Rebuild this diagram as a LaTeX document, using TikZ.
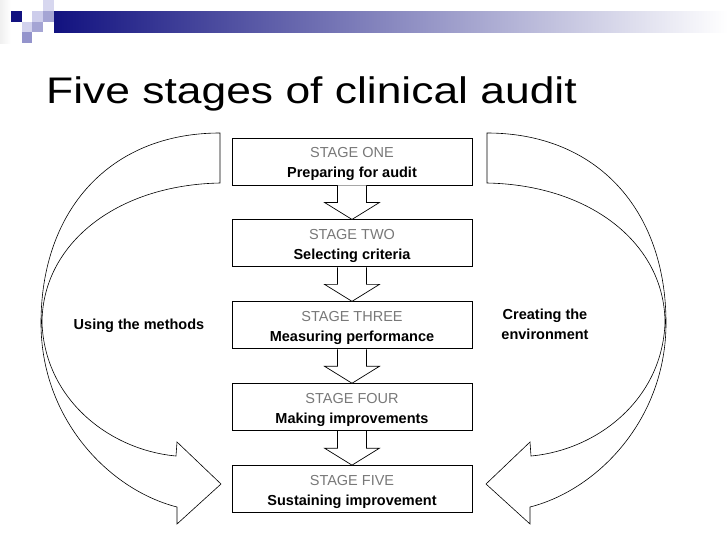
\documentclass[tikz,border=0pt]{standalone}
\usepackage{fontspec}
\setmainfont{Liberation Sans}
\usetikzlibrary{positioning, calc}
\definecolor{bannernavy}{RGB}{18,18,128}
\definecolor{stagegrey}{RGB}{120,120,120}
\definecolor{sqlight}{RGB}{205,205,235}
\definecolor{sqmid}{RGB}{165,165,212}
\definecolor{sqdark}{RGB}{148,148,204}

\tikzset{
  stagebox/.style={draw=black, line width=0.9pt, minimum width=240pt, minimum height=47pt,
    align=center, inner sep=0pt, text height=32pt, text depth=0pt,
    font=\fontsize{14.5}{20}\selectfont\bfseries},
  blockarrow/.style={draw=black, line width=0.7pt, fill=white, line join=miter},
  looparrow/.style={draw=black, line width=0.6pt, line join=miter},
  sidelabel/.style={align=center, inner sep=0pt, font=\fontsize{14.5}{20}\selectfont\bfseries}
}

\begin{document}
\begin{tikzpicture}[x=1pt, y=-1pt]
  \useasboundingbox (0,0) rectangle (728,546);
  % Banner
  \fill[left color=gray!12, right color=white] (0,0) rectangle (11,43);
  \fill[left color=bannernavy, middle color=bannernavy!55, right color=white] (54,11) rectangle (728,32);
  \fill[bannernavy] (11,11) rectangle (22,22);
  \fill[sqlight] (32,11) rectangle (43,22);
  \fill[sqlight!80] (43,0) rectangle (54,11);
  \fill[sqmid] (43,11) rectangle (54,22);
  \fill[sqlight!90] (22,22) rectangle (32,32);
  \fill[sqmid] (32,22) rectangle (43,32);
  \fill[sqdark] (22,32) rectangle (32,43);
  % Title
  \node[anchor=base west, inner sep=0pt, font=\fontsize{37}{40}\selectfont] (title)
    at (46,103.5) {\scalebox{1.2}[1]{Five stages of clinical audit}};
  % Stages
  \node[stagebox] (s1) at (352,161.5) {\textcolor{stagegrey}{\mdseries STAGE ONE}\\Preparing for audit};
  \node[stagebox, below=34pt of s1] (s2) {\textcolor{stagegrey}{\mdseries STAGE TWO}\\Selecting criteria};
  \node[stagebox, below=34pt of s2] (s3) {\textcolor{stagegrey}{\mdseries STAGE THREE}\\Measuring performance};
  \node[stagebox, below=34pt of s3] (s4) {\textcolor{stagegrey}{\mdseries STAGE FOUR}\\Making improvements};
  \node[stagebox, below=34pt of s4] (s5) {\textcolor{stagegrey}{\mdseries STAGE FIVE}\\Sustaining improvement};
  % Down arrows
  \foreach \a/\b in {s1/s2, s2/s3, s3/s4, s4/s5}
    \draw[blockarrow] ($(\a.south)+(-14.5,0)$) -- ++(0,17) -- ++(-13,0) -- (\b.north)
      -- ($(\a.south)+(27.5,17)$) -- ++(-13,0) -- ++(0,-17);
  % Left loop
  \draw[looparrow]
    (220,133) -- (220,183) .. controls (115,185) and (42,245) .. (42,323)
    .. controls (45,400) and (110,450) .. (176,456) -- (177,442) -- (221,484)
    -- (177,524) -- (177,507) .. controls (110,490) and (41,420) .. (41,323)
    .. controls (41,210) and (110,133) .. (220,133) -- cycle;
  % Right loop (mirror image)
  \draw[looparrow]
    (487,133) -- (487,183) .. controls (592,185) and (665,245) .. (665,323)
    .. controls (662,400) and (597,450) .. (531,456) -- (530,442) -- (486,484)
    -- (530,524) -- (530,507) .. controls (597,490) and (666,420) .. (666,323)
    .. controls (666,210) and (597,133) .. (487,133) -- cycle;
  % Side labels
  \node[sidelabel] (methods) at (139,326) {Using the methods};
  \node[sidelabel] (environment) at (545,324) {Creating the\\environment};
\end{tikzpicture}
\end{document}
